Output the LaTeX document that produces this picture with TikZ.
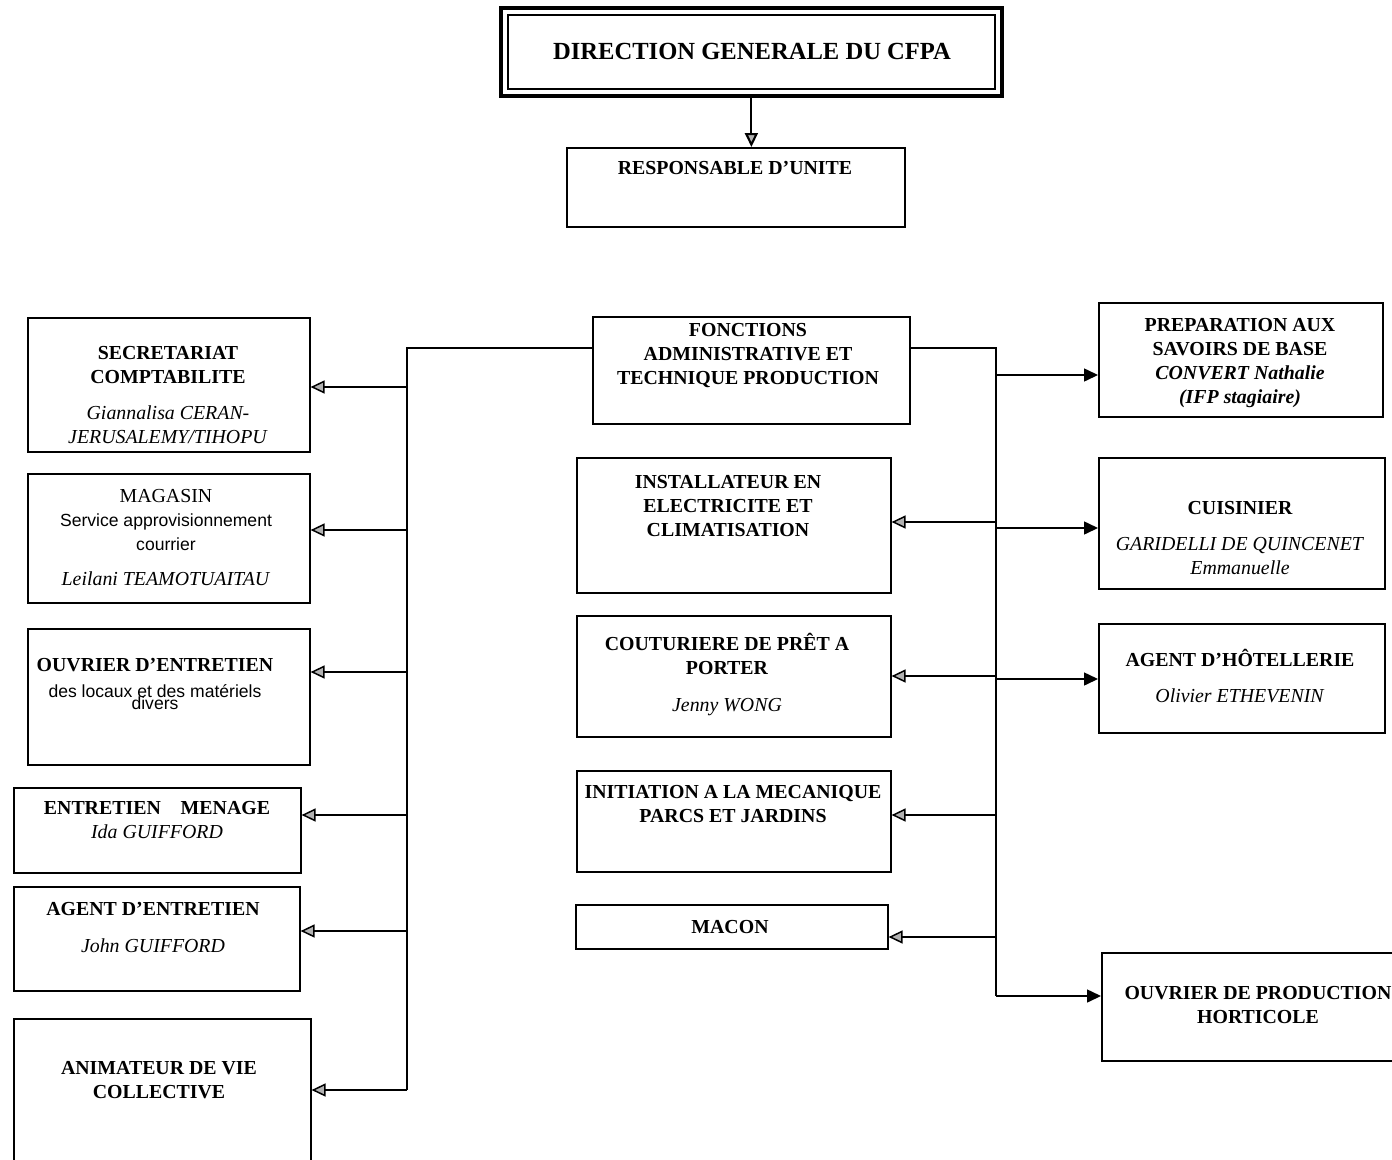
\documentclass[tikz,border=0pt]{standalone}
\usepackage{fontspec}
\setmainfont{Liberation Serif}
\setsansfont{Liberation Sans}
\usetikzlibrary{arrows.meta,fit}

\newcommand{\pname}[1]{\textmd{\textit{#1}}}
\newcommand{\svc}[1]{{\mdseries\sffamily\fontsize{10}{12}\selectfont #1}}

\begin{document}
\begin{tikzpicture}[x=0.02cm, y=-0.02cm,
        unit/.style={draw, line width=0.9pt, anchor=north west, inner sep=0pt},
        sz/.style 2 args={minimum width=#1*0.02cm, minimum height=#2*0.02cm},
        lbl/.style={anchor=base, align=center, inner sep=0pt, font=\bfseries\fontsize{11.3}{13.66}\selectfont},
        conn/.style={line width=0.85pt},
        arrl/.style={conn, -{Triangle[length=2.8mm, width=2.6mm, fill=gray!60]}},
        arrr/.style={conn, -{Triangle[length=2.8mm, width=2.6mm]}}
      ]
        \path[use as bounding box, fill=white] (0,0) rectangle (1392,1159);

        \node[unit, sz={487}{74}, line width=1pt] (dg) at (507,14) {};
        \node[fit=(dg), draw, line width=2.3pt, inner sep=0.12cm] (dgf) {};
        \node[lbl, font=\bfseries\fontsize{14}{17}\selectfont] (dg-t) at (752,60) {DIRECTION GENERALE DU CFPA};

        \node[unit, sz={338}{79}] (resp) at (566,147) {};
        \node[lbl] (resp-t) at (735,174) {RESPONSABLE D’UNITE};
        \draw[arrl, line width=1.2pt] (dgf.south) -- (dgf.south |- resp.north);

        \node[unit, sz={317}{107}, line width=1.4pt] (fonc) at (592,316) {};
        \node[lbl] (fonc-t) at (748,384.5) {FONCTIONS\\ADMINISTRATIVE ET\\TECHNIQUE PRODUCTION};

        \node[unit, sz={282}{134}] (secr) at (27,317) {};
        \node[lbl] (secr-t) at (168,443.5) {SECRETARIAT\\COMPTABILITE\\[0.24cm]\pname{Giannalisa CERAN-}\\\pname{JERUSALEMY/TIHOPU}};
        \node[unit, sz={282}{129}] (maga) at (27,473) {};
        \node[lbl] (maga-t) at (166,585.5) {\textmd{MAGASIN}\\\svc{Service approvisionnement}\\\svc{courrier}\\[0.22cm]\pname{Leilani TEAMOTUAITAU}};
        \node[unit, sz={282}{136}] (ouvr) at (27,628) {};
        \node[lbl] (ouvr-t) at (155,709) {OUVRIER D’ENTRETIEN\\[0.04cm]\svc{des locaux et des matériels}\\[-0.24cm]\svc{divers}};
        \node[unit, sz={287}{85}] (mena) at (13,787) {};
        \node[lbl] (mena-t) at (157,838.5) {ENTRETIEN\quad MENAGE\\\pname{Ida GUIFFORD}};
        \node[unit, sz={286}{104}] (agen) at (13,886) {};
        \node[lbl] (agen-t) at (153,952.5) {AGENT D’ENTRETIEN\\[0.26cm]\pname{John GUIFFORD}};
        \node[unit, sz={297}{150}] (anim) at (13,1018) {};
        \node[lbl] (anim-t) at (159,1098.5) {ANIMATEUR DE VIE\\COLLECTIVE};

        \node[unit, sz={314}{135}] (inst) at (576,457) {};
        \node[lbl] (inst-t) at (728,536.5) {INSTALLATEUR EN\\ELECTRICITE ET\\CLIMATISATION};
        \node[unit, sz={314}{121}] (cout) at (576,615) {};
        \node[lbl] (cout-t) at (727,711.5) {COUTURIERE DE PRÊT A\\PORTER\\[0.26cm]\pname{Jenny WONG}};
        \node[unit, sz={314}{101}] (init) at (576,770) {};
        \node[lbl] (init-t) at (733,822.5) {INITIATION A LA MECANIQUE\\PARCS ET JARDINS};
        \node[unit, sz={312}{44}] (maco) at (575,904) {};
        \node[lbl] (maco-t) at (730,933) {MACON};

        \node[unit, sz={284}{114}] (prep) at (1098,302) {};
        \node[lbl] (prep-t) at (1240,403.5) {PREPARATION AUX\\SAVOIRS DE BASE\\\textit{CONVERT Nathalie}\\\textit{(IFP stagiaire)}};
        \node[unit, sz={286}{131}] (cuis) at (1098,457) {};
        \node[lbl] (cuis-t) at (1240,574.5) {CUISINIER\\[0.24cm]\pname{GARIDELLI DE QUINCENET}\\\pname{Emmanuelle}};
        \node[unit, sz={286}{109}] (hote) at (1098,623) {};
        \node[lbl] (hote-t) at (1240,702.5) {AGENT D’HÔTELLERIE\\[0.24cm]\pname{Olivier ETHEVENIN}};
        \node[unit, sz={300}{108}] (hort) at (1101,952) {};
        \node[lbl] (hort-t) at (1258,1023.5) {OUVRIER DE PRODUCTION\\HORTICOLE};

        \coordinate (lb) at (407,348);
        \coordinate (rb) at (996,348);
        \draw[conn] (fonc.west |- lb) -- (lb) -- (lb |- 0,1090);
        \draw[conn] (fonc.east |- rb) -- (rb) -- (rb |- 0,996);
        \foreach \n/\y in {secr/387, maga/530, ouvr/672, mena/815, agen/931, anim/1090}
          \draw[arrl] (lb |- 0,\y) -- (\n.east |- 0,\y);
        \foreach \n/\y in {inst/522, cout/676, init/815, maco/937}
          \draw[arrl] (rb |- 0,\y) -- (\n.east |- 0,\y);
        \foreach \n/\y in {prep/375, cuis/528, hote/679, hort/996}
          \draw[arrr] (rb |- 0,\y) -- (\n.west |- 0,\y);
      \end{tikzpicture}
\end{document}
